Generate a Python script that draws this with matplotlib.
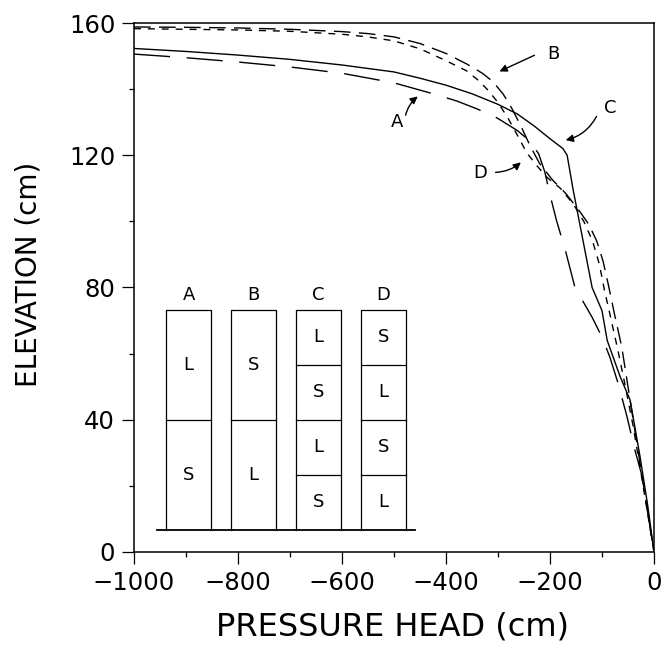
import numpy as np
import matplotlib.pyplot as plt

# pressure head (cm) / elevation (cm)
a_head = [-1000, -900, -800, -700, -600, -500, -425, -379, -340, -302, -263, -240,
          -222, -210, -200, -187, -170, -152, -130, -119, -100, -85, -69, -52,
          -37, -23, -10, 0]
a_elev = [150.6, 149.5, 148.2, 146.7, 144.8, 141.9, 138.6, 136.4, 134.0, 131.3, 127.5, 124.5,
          120.5, 115.0, 108.0, 100.0, 91.0, 80.0, 74.0, 71.0, 65.0, 59.0, 51.0, 41.0,
          31.0, 23.0, 10.0, 0.0]

b_head = [-1000, -900, -800, -700, -600, -550, -500, -450, -400, -360, -330, -310,
          -290, -272, -255, -238, -220, -195, -170, -145, -125, -110, -98, -88,
          -76, -62, -48, -30, -14, 0]
b_elev = [158.8, 158.7, 158.5, 158.1, 157.4, 156.8, 155.8, 153.8, 150.8, 147.6, 144.8, 142.3,
          138.5, 133.8, 128.5, 122.8, 117.5, 112.5, 108.5, 103.5, 99.0, 94.0, 88.0, 81.0,
          72.0, 62.0, 48.0, 30.0, 14.0, 0.0]

c_head = [-1000, -900, -800, -700, -600, -500, -450, -400, -350, -300, -263, -230,
          -200, -175, -167, -156, -119, -100, -90, -65, -46, -27, -12, 0]
c_elev = [152.3, 151.4, 150.3, 149.0, 147.3, 145.2, 143.3, 141.2, 138.6, 135.4, 132.5, 128.8,
          125.0, 122.0, 120.0, 110.0, 80.0, 73.0, 64.0, 53.0, 46.0, 29.0, 14.0, 0.0]

d_head = [-1000, -900, -800, -700, -600, -550, -500, -450, -400, -360, -335, -320,
          -300, -280, -260, -245, -225, -205, -180, -155, -135, -118, -105, -95,
          -82, -68, -55, -40, -22, 0]
d_elev = [158.3, 158.1, 157.9, 157.5, 156.6, 155.8, 154.6, 152.2, 148.6, 145.5, 142.3, 139.8,
          136.0, 131.0, 125.3, 120.8, 116.8, 113.2, 110.0, 105.2, 100.0, 94.0, 87.0, 79.0,
          70.0, 60.0, 50.0, 38.0, 21.0, 0.0]

# soil column sketch (top to bottom)
columns = ['A', 'B', 'C', 'D']
layers = [['L', 'S'], ['S', 'L'], ['L', 'S', 'L', 'S'], ['S', 'L', 'S', 'L']]

fig = plt.figure(figsize=(6.62, 6.5), dpi=100)
ax = fig.add_axes([0.2024, 0.1508, 0.7855, 0.8138])

lw = 1.0
ax.plot(a_head, a_elev, color='k', lw=lw, dashes=(26, 12))
ax.plot(b_head, b_elev, color='k', lw=lw, dashes=(12, 6))
ax.plot(c_head, c_elev, color='k', lw=lw)
ax.plot(d_head, d_elev, color='k', lw=lw, dashes=(5, 5))

# curve labels with arrows
arr = dict(arrowstyle='-|>', color='k', lw=1.0, mutation_scale=11)
ax.annotate('', xy=(-450, 138.3), xytext=(-479, 131.3),
            arrowprops=dict(arr, connectionstyle='arc3,rad=-0.2'))
ax.text(-494, 130, 'A', fontsize=13, ha='center', va='center')
ax.annotate('', xy=(-302, 145), xytext=(-225, 150.6),
            arrowprops=dict(arr, connectionstyle='arc3,rad=0'))
ax.text(-194, 150.6, 'B', fontsize=13, ha='center', va='center')
ax.annotate('', xy=(-175, 124.4), xytext=(-108, 132.5),
            arrowprops=dict(arr, connectionstyle='arc3,rad=-0.25'))
ax.text(-85, 134.3, 'C', fontsize=13, ha='center', va='center')
ax.annotate('', xy=(-252, 118.4), xytext=(-310, 114.8),
            arrowprops=dict(arr, connectionstyle='arc3,rad=0.2'))
ax.text(-335, 114.5, 'D', fontsize=13, ha='center', va='center')

# inset soil columns
base, top = 6.7, 73.3
x0, step, width = -939, 125, 88
ax.plot([-956, -460], [base, base], color='k', lw=1.3)
for i, (name, lay) in enumerate(zip(columns, layers)):
    left = x0 + i * step
    h = (top - base) / len(lay)
    ax.plot([left, left, left + width, left + width], [base, top, top, base],
            color='k', lw=0.9)
    for j, soil in enumerate(lay):
        y_hi = top - j * h
        if j > 0:
            ax.plot([left, left + width], [y_hi, y_hi], color='k', lw=0.9)
        ax.text(left + width / 2, y_hi - h / 2, soil, fontsize=13,
                ha='center', va='center')
    ax.text(left + width / 2, 77.7, name, fontsize=13, ha='center', va='center')

ax.set_xlim(-1000, 0)
ax.set_ylim(0, 160)
ax.set_xticks(np.arange(-1000, 1, 200))
ax.set_xticks(np.arange(-900, 0, 200), minor=True)
ax.set_yticks(np.arange(0, 161, 40))
ax.set_yticks(np.arange(20, 160, 40), minor=True)
ax.tick_params(which='major', direction='out', length=8.5, width=0.9,
               labelsize=17.5, pad=5)
ax.tick_params(which='minor', direction='out', length=3.6, width=0.9)
for s in ax.spines.values():
    s.set_linewidth(1.1)

ax.set_xlabel('PRESSURE HEAD (cm)', fontsize=23)
ax.set_ylabel('ELEVATION (cm)', fontsize=20)
ax.xaxis.set_label_coords(0.497, -0.112)
ax.yaxis.set_label_coords(-0.175, 0.525)

fig.savefig('out.png', dpi=100)
